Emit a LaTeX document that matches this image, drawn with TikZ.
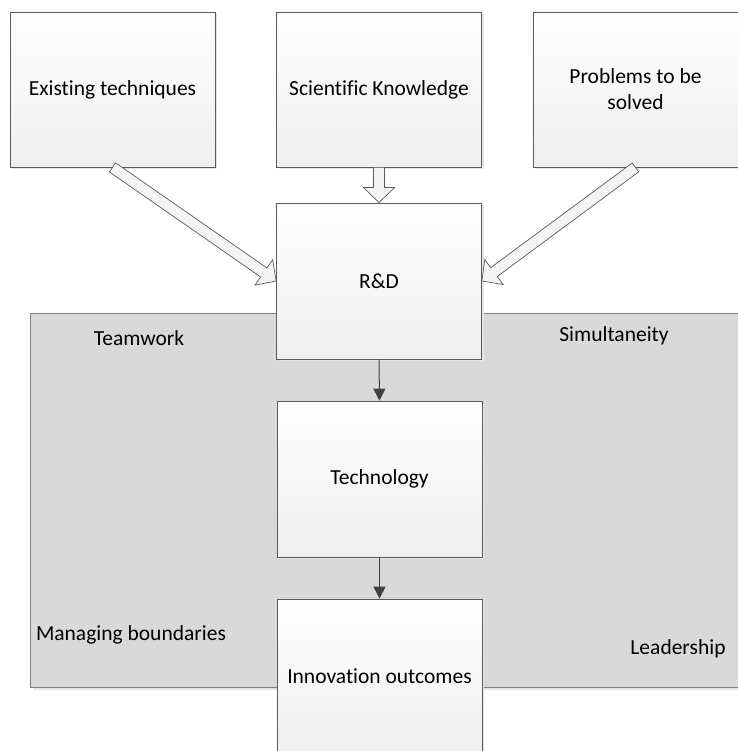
\documentclass[tikz,border=0pt]{standalone}
\usepackage{fontspec}
\setmainfont{Carlito}[Ligatures=CommonOff]
\usetikzlibrary{calc,arrows.meta,shadows}

\definecolor{boxline}{HTML}{5A5A5A}
\definecolor{boxbot}{HTML}{EFEFEF}
\definecolor{regionfill}{HTML}{D9D9D9}
\definecolor{regionline}{HTML}{808080}
\definecolor{darkline}{HTML}{404040}
\definecolor{arrowfill}{HTML}{F4F4F4}

% hollow block arrow from #1 (tail) to #2 (tip)
\newcommand\hollowarrow[2]{%
  \coordinate (hB) at ($(#2)!15pt!(#1)$);
  \draw[blockarrow]
    ($(#1)!5.5pt!90:(#2)$) -- ($(hB)!5.5pt!90:(#2)$) -- ($(hB)!15.5pt!90:(#2)$)
    -- (#2)
    -- ($(hB)!15.5pt!-90:(#2)$) -- ($(hB)!5.5pt!-90:(#2)$) -- ($(#1)!5.5pt!-90:(#2)$)
    -- cycle;
}

\begin{document}
\begin{tikzpicture}[x=1pt,y=-1pt,
  box/.style={draw=boxline, line width=0.8pt, top color=white, bottom color=boxbot,
    minimum width=205pt, minimum height=155pt, inner sep=0pt, align=center,
    font=\fontsize{21.5}{26}\selectfont,
    drop shadow={shadow xshift=2pt, shadow yshift=-2pt, fill=black!10, opacity=1}},
  lbl/.style={font=\fontsize{21.5}{26}\selectfont, inner sep=0pt},
  blockarrow/.style={draw=boxline, line width=0.7pt, fill=arrowfill, line join=miter},
  flow/.style={draw=darkline, line width=1pt, -{Triangle[width=12pt,length=12pt]}},
]
\useasboundingbox (0,0) rectangle (737,751);

% shaded region holding the soft factors
\fill[black!10] (33,687) rectangle (745,690);
\draw[draw=regionline, fill=regionfill, line width=0.9pt] (30,313) rectangle (745,687);

% input boxes
\node[box] (exist) at (112.5,89.5) {Existing techniques};
\node[box] (sci)   at (379,89.5)   {Scientific Knowledge};
\node[box] (prob)  at (635.5,89.5) {Problems to be\\solved};

% process chain
\node[box, minimum height=156pt] (rd)    at (379,281)   {R\&D};
\node[box, minimum height=156pt] (tech)  at (379.5,479) {Technology};
\node[box, minimum height=154pt] (innov) at (379.5,676) {Innovation outcomes};

% soft factors
\node[lbl] (team)  at (139,338) {Teamwork};
\node[lbl] (simul) at (614,336) {Simultaneity};
\node[lbl] (bound) at (131,635) {Managing boundaries};
\node[lbl] (lead)  at (678,649) {Leadership};

% inputs into R&D
\hollowarrow{exist.south}{rd.west}
\hollowarrow{sci.south}{rd.north}
\hollowarrow{prob.south}{rd.east}

% flow through the chain
\draw[flow] (rd.south) -- (tech.north);
\draw[flow] (tech.south) -- (innov.north);
\end{tikzpicture}
\end{document}
